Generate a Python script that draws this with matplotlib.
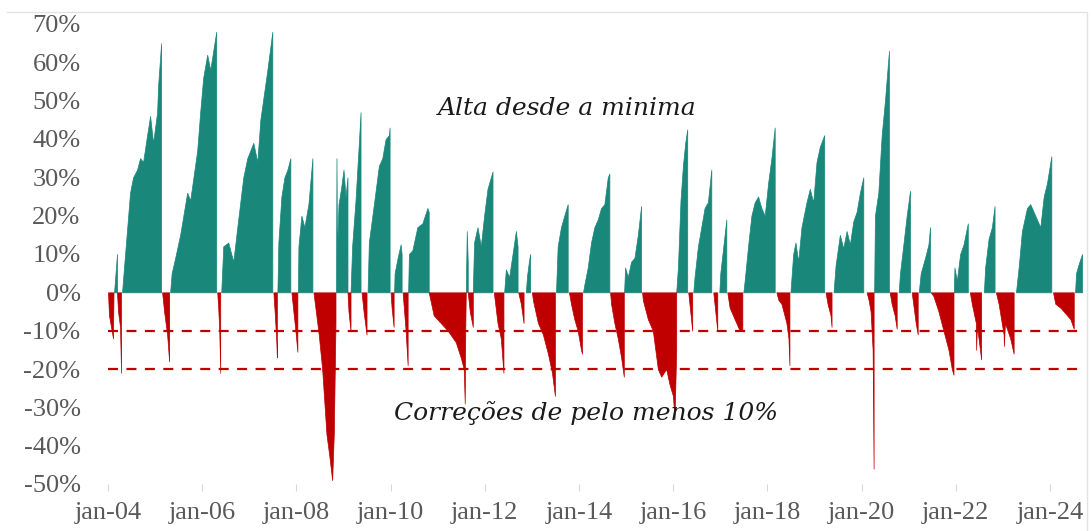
import matplotlib
matplotlib.use("Agg")
import matplotlib.pyplot as plt
from matplotlib.ticker import FixedLocator, FuncFormatter
from matplotlib.lines import Line2D

# ---------------- data (decimal years, percent) ----------------
# "Alta desde a mínima" (rally since the low) – each episode starts at 0
rally_t = [
    2004.128, 2004.160, 2004.191, 2004.191,
    2004.298, 2004.330, 2004.468, 2004.532, 2004.617, 2004.681, 2004.745, 2004.830, 2004.894, 2004.957, 2005.043, 2005.064, 2005.128, 2005.128,
    2005.319, 2005.351, 2005.426, 2005.532, 2005.681, 2005.745, 2005.894, 2005.957, 2006.021, 2006.106, 2006.170, 2006.234, 2006.298, 2006.298,
    2006.404, 2006.447, 2006.553, 2006.660, 2006.745, 2006.872, 2006.957, 2007.085, 2007.170, 2007.234, 2007.383, 2007.489, 2007.489,
    2007.596, 2007.617, 2007.681, 2007.745, 2007.809, 2007.872, 2007.872,
    2008.032, 2008.043, 2008.106, 2008.170, 2008.255, 2008.340, 2008.340,
    2008.840, 2008.851, 2008.862, 2008.894, 2008.947, 2009.000, 2009.043, 2009.085, 2009.085,
    2009.149, 2009.183, 2009.255, 2009.326, 2009.362, 2009.362,
    2009.511, 2009.538, 2009.645, 2009.751, 2009.823, 2009.894, 2009.964, 2009.979, 2009.979,
    2010.074, 2010.085, 2010.149, 2010.213, 2010.234, 2010.234,
    2010.372, 2010.389, 2010.462, 2010.568, 2010.674, 2010.781, 2010.809, 2010.809,
    2011.596, 2011.617, 2011.638, 2011.638,
    2011.745, 2011.772, 2011.845, 2011.915, 2011.985, 2012.057, 2012.128, 2012.164, 2012.164,
    2012.411, 2012.447, 2012.517, 2012.589, 2012.660, 2012.696, 2012.696,
    2012.872, 2012.894, 2012.936, 2012.962, 2012.962,
    2013.511, 2013.547, 2013.617, 2013.687, 2013.760, 2013.760,
    2014.085, 2014.113, 2014.185, 2014.255, 2014.326, 2014.398, 2014.468, 2014.538, 2014.611, 2014.645, 2014.645,
    2014.957, 2014.979, 2015.036, 2015.106, 2015.177, 2015.249, 2015.319, 2015.319,
    2016.064, 2016.100, 2016.155, 2016.206, 2016.255, 2016.298, 2016.298,
    2016.426, 2016.453, 2016.525, 2016.596, 2016.666, 2016.736, 2016.809, 2016.809,
    2016.979, 2017.000, 2017.064, 2017.128, 2017.128,
    2017.489, 2017.517, 2017.589, 2017.660, 2017.730, 2017.802, 2017.872, 2017.943, 2018.015, 2018.085, 2018.155, 2018.155,
    2018.489, 2018.547, 2018.596, 2018.653, 2018.723, 2018.830, 2018.900, 2018.972, 2019.043, 2019.113, 2019.206, 2019.206,
    2019.404, 2019.447, 2019.538, 2019.611, 2019.681, 2019.751, 2019.823, 2019.894, 2019.964, 2020.036, 2020.036,
    2020.266, 2020.283, 2020.355, 2020.426, 2020.496, 2020.581, 2020.581,
    2020.787, 2020.815, 2020.887, 2020.957, 2021.028, 2021.028,
    2021.213, 2021.255, 2021.347, 2021.419, 2021.453, 2021.453,
    2021.957, 2021.972, 2022.021, 2022.092, 2022.164, 2022.255, 2022.255,
    2022.596, 2022.623, 2022.696, 2022.766, 2022.823, 2022.823,
    2023.277, 2023.334, 2023.404, 2023.511, 2023.581, 2023.652, 2023.723, 2023.794, 2023.866, 2023.936, 2024.028, 2024.028,
    2024.532, 2024.553, 2024.611, 2024.681,
]
rally_v = [
    0, 5, 10, 0,
    0, 5, 26, 30, 32, 35, 34, 41, 46, 39, 47, 54, 65, 0,
    0, 5, 9, 15, 26, 24, 37, 47, 56, 62, 58, 63, 68, 0,
    0, 12, 13, 8, 17, 30, 35, 39, 34, 45, 58, 68, 0,
    0, 13, 25, 30, 32, 35, 0,
    0, 12, 20, 17, 23, 35, 0,
    0, 35, 10, 23, 27, 32, 25, 30, 0,
    0, 12, 24, 39, 47, 0,
    0, 13, 23, 33, 35, 40, 41, 43, 0,
    0, 5, 9, 12.5, 10, 0,
    0, 10, 11, 17, 18, 22, 21, 0,
    0, 16, 8, 0,
    0, 13, 17, 12, 20, 27, 30, 31.5, 0,
    0, 6, 4, 10, 16, 12, 0,
    0, 4, 8, 10, 0,
    0, 12, 17, 20, 23, 0,
    0, 2, 6.5, 13, 17, 19, 22, 23, 30, 31, 0,
    0, 6.5, 4, 8, 9, 15, 22.5, 0,
    0, 6.5, 24, 33, 39, 42.5, 0,
    0, 4, 12, 17, 22, 23.5, 32, 0,
    0, 5, 12, 19, 0,
    0, 3, 12, 20, 23.5, 25, 22, 20, 28.5, 35, 43, 0,
    0, 10, 13, 8, 17, 23.5, 27, 23.5, 34, 38, 41, 0,
    0, 7, 15, 11.5, 16, 12.5, 18.5, 21, 26, 30, 0,
    0, 20, 26, 41, 50, 63, 0,
    0, 5, 12.5, 20, 26.5, 0,
    0, 5, 9, 12.5, 17, 0,
    0, 6.5, 3, 10, 12.5, 18, 0,
    0, 6.5, 14, 17, 22.5, 0,
    0, 6.5, 16, 22, 23, 21, 19, 17, 25, 28.5, 35.5, 0,
    0, 5, 7.5, 10,
]

# "Correções" (drawdown from the high)
corr_t = [
    2004.000, 2004.021, 2004.064, 2004.106, 2004.117,
    2004.191, 2004.213, 2004.255, 2004.277, 2004.277,
    2005.149, 2005.191, 2005.255, 2005.298, 2005.298,
    2006.319, 2006.340, 2006.362, 2006.383, 2006.383,
    2007.511, 2007.543, 2007.574, 2007.585, 2007.585,
    2007.894, 2007.936, 2007.979, 2008.021, 2008.021,
    2008.362, 2008.474, 2008.547, 2008.638, 2008.702, 2008.759, 2008.794, 2008.815, 2008.830, 2008.830,
    2009.085, 2009.106, 2009.149, 2009.149,
    2009.383, 2009.426, 2009.489, 2009.489,
    2010.000, 2010.021, 2010.064, 2010.064,
    2010.255, 2010.287, 2010.319, 2010.362, 2010.362,
    2010.809, 2010.915, 2011.064, 2011.213, 2011.383, 2011.489, 2011.553, 2011.574, 2011.585, 2011.596,
    2011.638, 2011.681, 2011.745, 2011.745,
    2012.191, 2012.270, 2012.340, 2012.396, 2012.396,
    2012.709, 2012.766, 2012.823, 2012.823,
    2013.000, 2013.021, 2013.128, 2013.234, 2013.340, 2013.426, 2013.489, 2013.489,
    2013.787, 2013.830, 2013.900, 2013.972, 2014.043, 2014.064, 2014.064,
    2014.660, 2014.681, 2014.751, 2014.823, 2014.894, 2014.951, 2014.951,
    2015.340, 2015.355, 2015.462, 2015.568, 2015.674, 2015.745, 2015.851, 2015.921, 2015.994, 2016.028, 2016.064, 2016.064,
    2016.319, 2016.362, 2016.404, 2016.404,
    2016.851, 2016.894, 2016.936, 2016.936,
    2017.149, 2017.198, 2017.304, 2017.411, 2017.468, 2017.468,
    2018.191, 2018.234, 2018.298, 2018.404, 2018.447, 2018.468, 2018.468,
    2019.234, 2019.277, 2019.340, 2019.362, 2019.362,
    2020.106, 2020.149, 2020.191, 2020.234, 2020.255, 2020.255,
    2020.596, 2020.638, 2020.702, 2020.745, 2020.745,
    2021.064, 2021.106, 2021.149, 2021.191, 2021.191,
    2021.468, 2021.526, 2021.632, 2021.738, 2021.845, 2021.915, 2021.951, 2021.951,
    2022.298, 2022.340, 2022.426, 2022.432, 2022.447, 2022.483, 2022.538, 2022.538,
    2022.851, 2022.909, 2023.015, 2023.021, 2023.043, 2023.155, 2023.228, 2023.228,
    2024.064, 2024.113, 2024.219, 2024.291, 2024.362, 2024.432, 2024.504, 2024.504,
]
corr_v = [
    0, -6, -9, -12, 0,
    0, -5, -9, -21, 0,
    0, -5, -11, -18, 0,
    0, -4, -10, -21, 0,
    0, -6, -13, -17, 0,
    0, -5, -10, -15.5, 0,
    0, -11, -20, -37, -43, -49, -37, -20, -8, 0,
    0, -5, -10, 0,
    0, -5, -11, 0,
    0, -4, -9, 0,
    0, -5, -10, -19, 0,
    0, -6, -8, -10, -13, -17, -20, -29, -10, 0,
    0, -5, -9, 0,
    0, -8, -12, -21, 0,
    0, -3, -8, 0,
    0, -2, -8, -11, -16, -21, -27, 0,
    0, -3, -7, -10, -15, -16, 0,
    0, -3, -8, -12, -17, -22, 0,
    0, -2, -7, -10, -20, -22, -20, -24, -27, -33, -15, 0,
    0, -5, -10, 0,
    0, -5, -10, 0,
    0, -4, -7, -10, -10, 0,
    0, -2, -3, -8, -12, -19, 0,
    0, -3, -6, -9, 0,
    0, -2, -5, -15, -46, 0,
    0, -3, -6, -9.5, 0,
    0, -4, -8, -11, 0,
    0, -1, -5, -10, -15, -20, -21.5, 0,
    0, -3, -8, -15, -9, -12, -17.5, 0,
    0, -3, -11, -14, -8, -12, -16, 0,
    0, -3, -4, -5, -6, -7, -9.5, 0,
]

threshold_levels = [-10, -20]
y_ticks = [70, 60, 50, 40, 30, 20, 10, 0, -10, -20, -30, -40, -50]
x_ticks = [2004, 2006, 2008, 2010, 2012, 2014, 2016, 2018, 2020, 2022, 2024]
x_labels = ["jan-04", "jan-06", "jan-08", "jan-10", "jan-12", "jan-14",
            "jan-16", "jan-18", "jan-20", "jan-22", "jan-24"]
label_rally = "Alta desde a minima"
label_corr = "Correções de pelo menos 10%"

# ---------------- styling ----------------
TEAL = "#1a877b"
RED = "#c00000"
GRAY = "#595959"
SERIF = ["Liberation Serif", "DejaVu Serif"]
SLAB = ["DejaVu Serif"]

W, H = 1091, 531
fig = plt.figure(figsize=(W / 100, H / 100), dpi=100)
fig.patch.set_facecolor("white")

ax_left, ax_right = 100, 1085
ax_top, ax_bottom = 24, 484
ax = fig.add_axes([ax_left / W, 1 - ax_bottom / H,
                   (ax_right - ax_left) / W, (ax_bottom - ax_top) / H])

px_per_year = 47.1
x0_px = 108
ax.set_xlim(2004 - (x0_px - ax_left) / px_per_year,
            2004 + (ax_right - x0_px) / px_per_year)
ax.set_ylim(-50, 70)


def episodes(t, v):
    """Split a series into episodes: a new one begins at a 0 that follows a 0."""
    start = 0
    for i in range(1, len(v)):
        if v[i] == 0 and v[i - 1] == 0:
            yield t[start:i], v[start:i]
            start = i
    yield t[start:], v[start:]


for et, ev in episodes(rally_t, rally_v):
    ax.fill_between(et, 0, ev, color=TEAL, lw=0.5, edgecolor=TEAL)
for et, ev in episodes(corr_t, corr_v):
    ax.fill_between(et, 0, ev, color=RED, lw=0.5, edgecolor=RED)

for lvl in threshold_levels:
    ax.hlines(lvl, corr_t[0], rally_t[-1], colors=RED, lw=1.6,
              linestyles=(0, (4.5, 3.8)))

for s in ax.spines.values():
    s.set_visible(False)

ax.yaxis.set_major_locator(FixedLocator(y_ticks))
ax.yaxis.set_major_formatter(FuncFormatter(lambda v, p: f"{v:.0f}%"))
ax.xaxis.set_major_locator(FixedLocator(x_ticks))
ax.set_xticklabels(x_labels)

ax.tick_params(axis="y", length=0, pad=14, labelsize=19, labelcolor=GRAY)
ax.tick_params(axis="x", length=5, width=0.8, color="#d9d9d9", pad=8,
               labelsize=19, labelcolor=GRAY)
for lab in ax.get_xticklabels() + ax.get_yticklabels():
    lab.set_family(SERIF)

ax.text(2013.75, 48, label_rally, ha="center", va="center", fontsize=18,
        style="italic", family=SLAB, color="#1a1a1a")
ax.text(2014.15, -31.5, label_corr, ha="center", va="center", fontsize=18,
        style="italic", family=SLAB, color="#1a1a1a")

# light frame lines (top and right) around the chart area
fig.add_artist(Line2D([7 / W, 1087 / W, 1087 / W], [1 - 12 / H, 1 - 12 / H, 0],
                      transform=fig.transFigure, color="#e3e3e3", lw=1))

fig.savefig("out.png", dpi=100, facecolor="white")
